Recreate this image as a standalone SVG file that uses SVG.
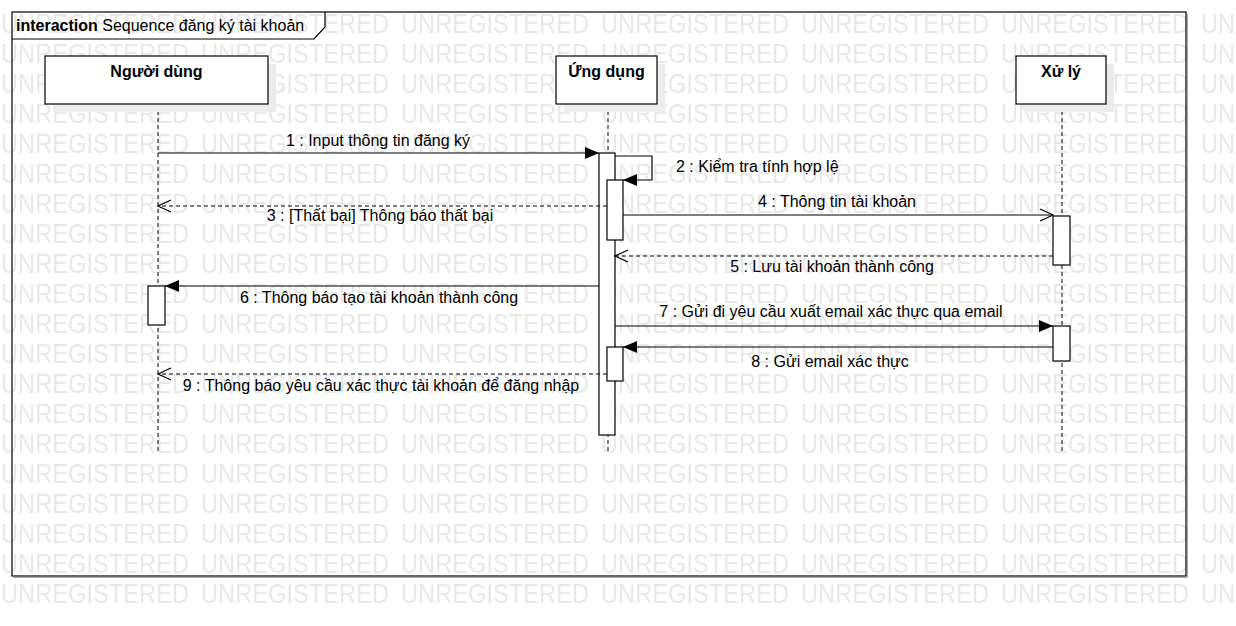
<svg xmlns="http://www.w3.org/2000/svg" width="1236" height="626" viewBox="0 0 1236 626">
<style>
.wm{font-family:"Liberation Sans",Arial,sans-serif;font-size:28px;fill:#e8e8e8}
.lbl{font-family:"Liberation Sans",Arial,sans-serif;font-size:16px;fill:#000}
.hd{font-family:"Liberation Sans",Arial,sans-serif;font-size:16px;font-weight:bold;fill:#000}
.box{fill:#fff;stroke:#000;stroke-width:1.2}
.shadow{fill:#ececec}
.life{stroke:#000;stroke-width:1;stroke-dasharray:4,3;fill:none}
.act{fill:#fff;stroke:#000;stroke-width:1.2}
.sync{stroke:#000;stroke-width:1.2;fill:none}
.ret{stroke:#000;stroke-width:1.2;fill:none;stroke-dasharray:4,3}
</style>
<defs>
<pattern id="wmp" patternUnits="userSpaceOnUse" x="0" y="3" width="200" height="30">
<text class="wm" x="1" y="30" textLength="188" lengthAdjust="spacingAndGlyphs">UNREGISTERED</text>
</pattern>
<marker id="filled" markerUnits="userSpaceOnUse" markerWidth="16" markerHeight="14" refX="15" refY="7" orient="auto">
<path d="M1,1 L15,7 L1,13 z" fill="#000"/>
</marker>
<marker id="open" markerUnits="userSpaceOnUse" markerWidth="16" markerHeight="14" refX="14" refY="7" orient="auto">
<path d="M1,1 L14,7 L1,13" fill="none" stroke="#000" stroke-width="1.2"/>
</marker>
</defs>
<rect width="1236" height="626" fill="#fff"/>
<rect x="0" y="8" width="1236" height="600" fill="url(#wmp)"/>

<g id="frame">
<path d="M1187.5,14 L1187.5,577.5 L14,577.5" fill="none" stroke="#aaa" stroke-width="1"/>
<rect x="12" y="12" width="1174" height="564" fill="none" stroke="#000" stroke-width="1.2"/>
<path d="M12,39 L314,39 L325,27 L325,12" fill="none" stroke="#000" stroke-width="1.2"/>
<text class="lbl" x="16" y="31"><tspan font-weight="bold">interaction</tspan> Sequence đăng ký tài khoản</text>
</g>

<g id="lifelines">
<line class="life" x1="158" y1="104" x2="158" y2="452"/>
<line class="life" x1="608" y1="104" x2="608" y2="452"/>
<line class="life" x1="1062" y1="104" x2="1062" y2="452"/>
</g>

<g id="node-nguoidung">
<rect class="shadow" x="53" y="64" width="223" height="48"/>
<rect class="box" x="45" y="56" width="223" height="48"/>
<text class="hd" x="156.5" y="77" text-anchor="middle">Người dùng</text>
<rect class="act" x="148" y="286" width="17" height="39"/>
</g>

<g id="node-ungdung">
<rect class="shadow" x="564" y="64" width="101" height="48"/>
<rect class="box" x="556" y="56" width="101" height="48"/>
<text class="hd" x="606.5" y="77" text-anchor="middle">Ứng dụng</text>
<rect class="act" x="599" y="153" width="16" height="282"/>
<rect class="act" x="607" y="180" width="16" height="60"/>
<rect class="act" x="607" y="347" width="16" height="34"/>
</g>

<g id="node-xuly">
<rect class="shadow" x="1024" y="64" width="90" height="48"/>
<rect class="box" x="1016" y="56" width="90" height="48"/>
<text class="hd" x="1061" y="77" text-anchor="middle">Xử lý</text>
<rect class="act" x="1053" y="216" width="17" height="49"/>
<rect class="act" x="1053" y="326" width="17" height="35"/>
</g>

<g id="connectors">
<line class="sync" x1="158" y1="153" x2="599" y2="153" marker-end="url(#filled)"/>
<text class="lbl" x="378" y="146" text-anchor="middle">1 : Input thông tin đăng ký</text>

<polyline class="sync" points="615,156 652,156 652,180 623,180" marker-end="url(#filled)"/>
<text class="lbl" x="676" y="172">2 : Kiểm tra tính hợp lệ</text>

<line class="ret" x1="607" y1="206" x2="158" y2="206" marker-end="url(#open)"/>
<text class="lbl" x="380" y="221" text-anchor="middle">3 : [Thất bại] Thông báo thất bại</text>

<line class="sync" x1="623" y1="215" x2="1053" y2="215" marker-end="url(#open)"/>
<text class="lbl" x="837" y="207" text-anchor="middle">4 : Thông tin tài khoản</text>

<line class="ret" x1="1053" y1="256" x2="615" y2="256" marker-end="url(#open)"/>
<text class="lbl" x="832" y="272" text-anchor="middle">5 : Lưu tài khoản thành công</text>

<line class="sync" x1="599" y1="286" x2="165" y2="286" marker-end="url(#filled)"/>
<text class="lbl" x="379" y="303" text-anchor="middle">6 : Thông báo tạo tài khoản thành công</text>

<line class="sync" x1="615" y1="326" x2="1053" y2="326" marker-end="url(#filled)"/>
<text class="lbl" x="831" y="317" text-anchor="middle">7 : Gửi đi yêu cầu xuất email xác thực qua email</text>

<line class="sync" x1="1053" y1="347" x2="623" y2="347" marker-end="url(#filled)"/>
<text class="lbl" x="830" y="367" text-anchor="middle">8 : Gửi email xác thực</text>

<line class="ret" x1="607" y1="374" x2="158" y2="374" marker-end="url(#open)"/>
<text class="lbl" x="381" y="391" text-anchor="middle">9 : Thông báo yêu cầu xác thực tài khoản để đăng nhập</text>
</g>
</svg>
